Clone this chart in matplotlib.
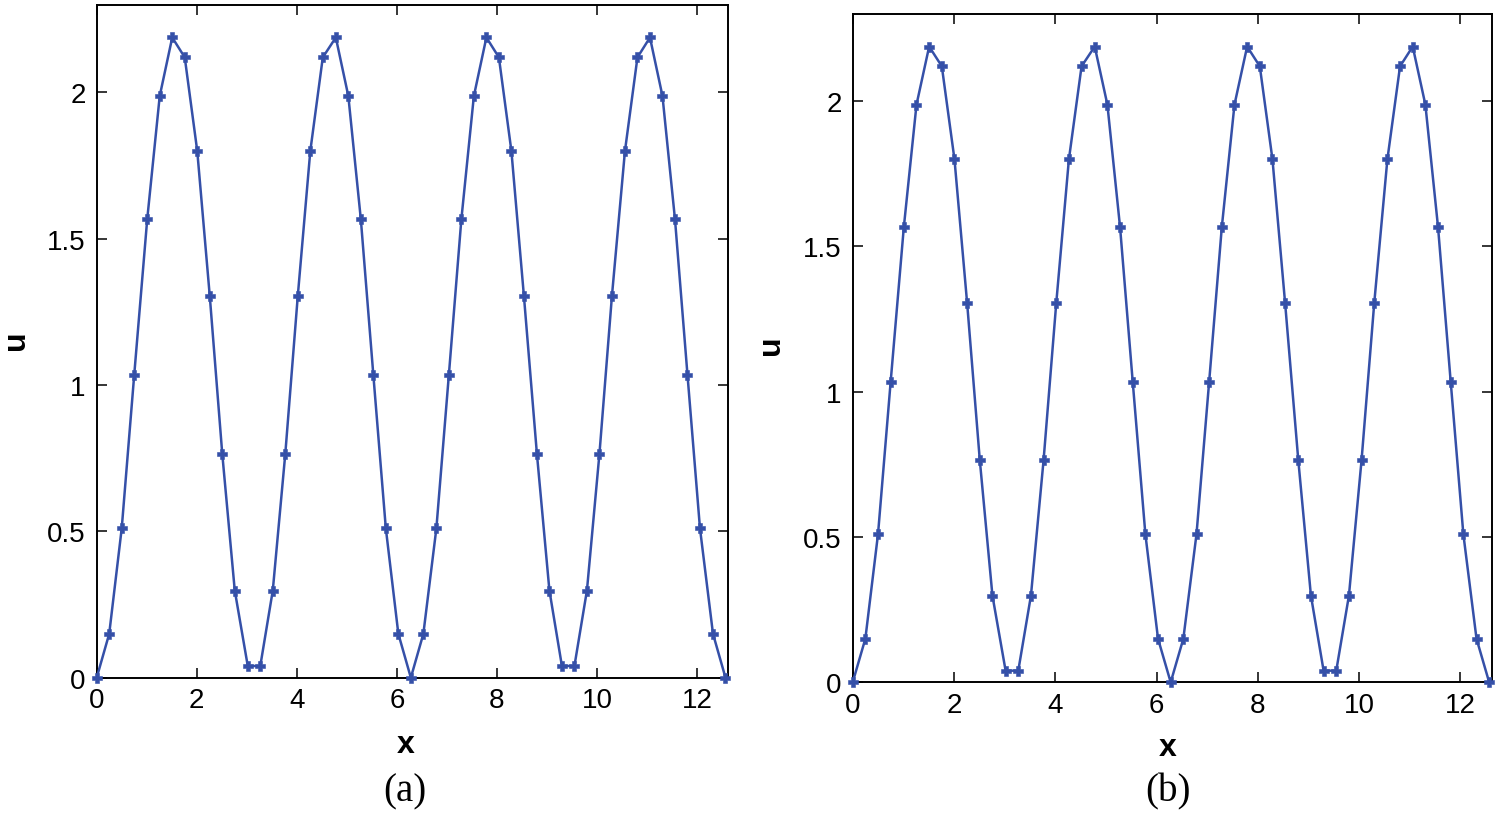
import matplotlib
matplotlib.use("Agg")
import matplotlib.pyplot as plt

# grille en x (0 .. 4*pi, 51 points)
x = [0.00, 0.25, 0.50, 0.75, 1.01, 1.26, 1.51, 1.76, 2.01, 2.26,
     2.51, 2.76, 3.02, 3.27, 3.52, 3.77, 4.02, 4.27, 4.52, 4.78,
     5.03, 5.28, 5.53, 5.78, 6.03, 6.28, 6.53, 6.79, 7.04, 7.29,
     7.54, 7.79, 8.04, 8.29, 8.54, 8.80, 9.05, 9.30, 9.55, 9.80,
     10.05, 10.30, 10.56, 10.81, 11.06, 11.31, 11.56, 11.81, 12.06, 12.32,
     12.57]

# solution (a)
u_a = [0.00, 0.15, 0.51, 1.035, 1.567, 1.988, 2.188, 2.12, 1.80, 1.305,
       0.765, 0.298, 0.04, 0.04, 0.298, 0.765, 1.305, 1.80, 2.12, 2.188,
       1.988, 1.567, 1.035, 0.51, 0.15, 0.00, 0.15, 0.51, 1.035, 1.567,
       1.988, 2.188, 2.12, 1.80, 1.305, 0.765, 0.298, 0.04, 0.04, 0.298,
       0.765, 1.305, 1.80, 2.12, 2.188, 1.988, 1.567, 1.035, 0.51, 0.15,
       0.00]

# solution (b)
u_b = [0.00, 0.15, 0.51, 1.035, 1.567, 1.988, 2.188, 2.12, 1.80, 1.305,
       0.765, 0.298, 0.04, 0.04, 0.298, 0.765, 1.305, 1.80, 2.12, 2.188,
       1.988, 1.567, 1.035, 0.51, 0.15, 0.00, 0.15, 0.51, 1.035, 1.567,
       1.988, 2.188, 2.12, 1.80, 1.305, 0.765, 0.298, 0.04, 0.04, 0.298,
       0.765, 1.305, 1.80, 2.12, 2.188, 1.988, 1.567, 1.035, 0.51, 0.15,
       0.00]

xticks = [0, 2, 4, 6, 8, 10, 12]
yticks = [0, 0.5, 1, 1.5, 2]
ytick_labels = ["0", "0.5", "1", "1.5", "2"]

W, H = 1500, 829
BLEU = "#3550a8"
SANS = ["Liberation Sans", "DejaVu Sans"]
SERIF = ["Liberation Serif", "DejaVu Serif"]


def rect(x0, y0, x1, y1):
    # pixels (origine en haut à gauche) -> coordonnées figure
    return [x0 / W, 1 - y1 / H, (x1 - x0) / W, (y1 - y0) / H]


def panneau(ax, u):
    ax.plot(x, u, color=BLEU, linewidth=1.8, marker="P", markersize=7,
            markeredgewidth=0.4, markeredgecolor=BLEU, zorder=3, clip_on=False)
    ax.set_xlim(0, 12.62)
    ax.set_ylim(0, 2.3)
    ax.set_xticks(xticks)
    ax.set_xticklabels([str(t) for t in xticks], family=SANS, fontsize=20)
    ax.set_yticks(yticks)
    ax.set_yticklabels(ytick_labels, family=SANS, fontsize=20)
    ax.tick_params(direction="in", top=True, right=True, length=7,
                   width=1.1, color="black")
    ax.tick_params(axis="x", pad=7)
    ax.tick_params(axis="y", pad=8)
    for s in ax.spines.values():
        s.set_linewidth(1.4)
        s.set_color("black")


fig = plt.figure(figsize=(W / 100, H / 100), dpi=100)

ax_a = fig.add_axes(rect(96.7, 5.7, 728, 678.7))
panneau(ax_a, u_a)
ax_b = fig.add_axes(rect(852.7, 15, 1491.7, 683.3))
panneau(ax_b, u_b)

# étiquettes d'axes et légendes (a)/(b)
for (ux, uy), (xx, xy), (cx, cy), nom in [((16, 340), (406, 745), (405, 792), "(a)"),
                                           ((771, 345), (1168, 748), (1168, 792), "(b)")]:
    fig.text(ux / W, 1 - uy / H, "u", rotation=90, ha="center", va="center",
             family=SANS, fontsize=23, fontweight="bold")
    fig.text(xx / W, 1 - xy / H, "x", ha="center", va="center",
             family=SANS, fontsize=23, fontweight="bold")
    fig.text(cx / W, 1 - cy / H, nom, ha="center", va="center",
             family=SERIF, fontsize=28)

fig.savefig("out.png", dpi=100)
